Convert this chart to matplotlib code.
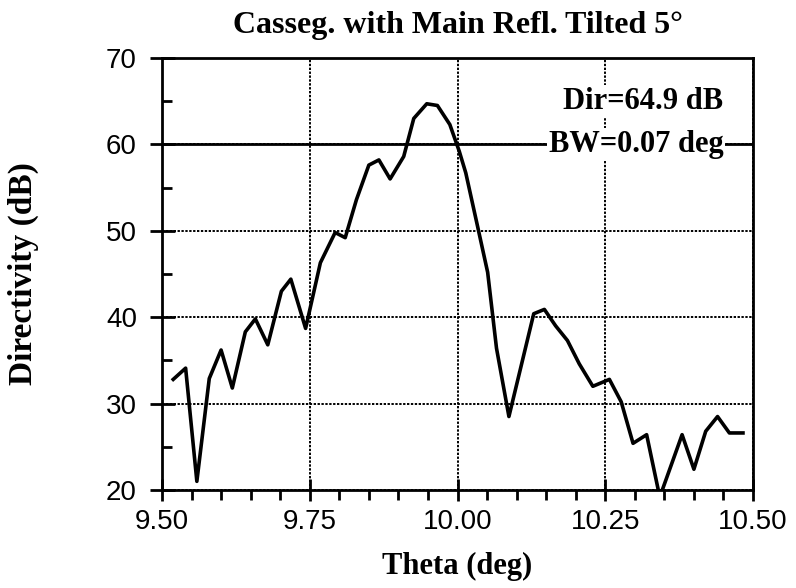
import matplotlib
matplotlib.use("Agg")
import matplotlib.pyplot as plt
from matplotlib.ticker import MultipleLocator, FormatStrFormatter

# values
theta = [9.519, 9.540, 9.559, 9.580, 9.600, 9.619, 9.641, 9.658, 9.679, 9.702,
         9.718, 9.743, 9.768, 9.793, 9.810, 9.829, 9.850, 9.867, 9.886, 9.909,
         9.926, 9.948, 9.966, 9.987, 10.003, 10.014, 10.034, 10.051, 10.066, 10.087,
         10.129, 10.147, 10.166, 10.186, 10.206, 10.229, 10.257, 10.277, 10.297, 10.320,
         10.340, 10.346, 10.380, 10.400, 10.420, 10.440, 10.460, 10.483]
directivity = [32.8, 34.1, 21.0, 32.9, 36.2, 31.8, 38.3, 39.8, 36.8, 43.0,
               44.4, 38.7, 46.3, 49.8, 49.2, 53.6, 57.6, 58.2, 56.0, 58.6,
               63.0, 64.7, 64.5, 62.3, 59.2, 56.7, 50.5, 45.2, 36.4, 28.5,
               40.4, 40.9, 39.0, 37.3, 34.6, 32.0, 32.8, 30.2, 25.4, 26.4,
               19.9, 19.9, 26.4, 22.4, 26.8, 28.5, 26.6, 26.6]

title = "Casseg. with Main Refl. Tilted 5°"
notes = ["Dir=64.9 dB", "BW=0.07 deg"]
bw_level = 60

serif = "Liberation Serif"
sans = "Liberation Sans"

fig = plt.figure(figsize=(7.96, 5.88), dpi=100)
ax = fig.add_axes([0.2035, 0.1667, 0.7425, 0.7347])

# dotted grid, the 60 dB reference drawn solid
ax.grid(True, which="major", color="black", linestyle=(0, (1.2, 0.8)), linewidth=1.4)
ax.axhline(bw_level, color="black", linewidth=2.0, zorder=2)

ax.plot(theta, directivity, color="black", linewidth=2.6, zorder=3)

ax.set_xlim(9.5, 10.5)
ax.set_ylim(20, 70)
ax.xaxis.set_major_locator(MultipleLocator(0.25))
ax.xaxis.set_minor_locator(MultipleLocator(0.05))
ax.xaxis.set_major_formatter(FormatStrFormatter("%.2f"))
ax.yaxis.set_major_locator(MultipleLocator(10))
ax.yaxis.set_minor_locator(MultipleLocator(5))

ax.tick_params(axis="x", which="major", direction="inout", length=16, width=2, pad=6)
ax.tick_params(axis="x", which="minor", direction="out", length=7, width=2)
ax.tick_params(axis="y", which="major", direction="inout", length=18, width=2, pad=9)
ax.tick_params(axis="y", which="minor", direction="in", length=7, width=2)
for lab in ax.get_xticklabels() + ax.get_yticklabels():
    lab.set_fontfamily(sans)
    lab.set_fontsize(20)

for sp in ax.spines.values():
    sp.set_linewidth(2)

ax.set_title(title, fontfamily=serif, fontweight="bold", fontsize=23, pad=18)
ax.set_xlabel("Theta (deg)", fontfamily=serif, fontweight="bold", fontsize=22, labelpad=12)
ax.set_ylabel("Directivity (dB)", fontfamily=serif, fontweight="bold", fontsize=24, labelpad=48)

box = dict(facecolor="white", edgecolor="none", pad=1)
ax.text(10.45, 65.0, notes[0], ha="right", va="center", fontfamily=serif,
        fontweight="bold", fontsize=22, bbox=box, zorder=4)
ax.text(10.45, bw_level, notes[1], ha="right", va="center", fontfamily=serif,
        fontweight="bold", fontsize=22, bbox=box, zorder=4)

fig.savefig("out.png", dpi=100)
